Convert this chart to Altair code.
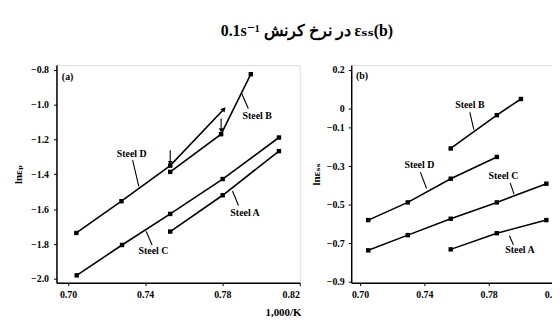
import altair as alt
import pandas as pd

SERIF = "'Liberation Serif', 'DejaVu Serif', serif"

# ---------------- panel (a): ln(eps_p) vs 1000/T ----------------
a_A_x = [0.753, 0.7802, 0.8094]
a_A_y = [-1.728, -1.520, -1.267]
a_B_x = [0.753, 0.7794, 0.7948]
a_B_y = [-1.386, -1.170, -0.826]
a_C_x = [0.7045, 0.728, 0.753, 0.7802, 0.8094]
a_C_y = [-1.979, -1.805, -1.627, -1.427, -1.189]
a_D_x = [0.7043, 0.7277, 0.753]
a_D_y = [-1.736, -1.554, -1.35]
a_D_tip_x = [0.7809]
a_D_tip_y = [-1.026]

a_lab_text = ["Steel A", "Steel B", "Steel C", "Steel D"]
a_lab_x = [0.7918, 0.7981, 0.7443, 0.733]
a_lab_y = [-1.620, -1.068, -1.839, -1.281]
a_lead_x = [0.7853, 0.7899, 0.7405, 0.7335]
a_lead_y = [-1.496, -0.932, -1.726, -1.318]
a_lead_x2 = [0.7884, 0.7935, 0.7436, 0.7367]
a_lead_y2 = [-1.579, -1.023, -1.805, -1.469]
# small vertical arrows
a_arr_x = [0.753, 0.7794]
a_arr_y = [-1.262, -1.08]
a_arr_y2 = [-1.335, -1.148]

a_xdom = [0.694, 0.8202]
a_ydom = [-2.021, -0.774]
a_xticks = [0.70, 0.74, 0.78, 0.82]
a_yticks = [-0.8, -1.0, -1.2, -1.4, -1.6, -1.8, -2.0]

# ---------------- panel (b): ln(eps_ss) vs 1000/T ----------------
b_A_x = [0.7564, 0.7851, 0.8159]
b_A_y = [-0.732, -0.648, -0.580]
b_B_x = [0.7564, 0.7851, 0.8001]
b_B_y = [-0.208, -0.035, 0.049]
b_C_x = [0.7051, 0.7297, 0.7564, 0.7851, 0.8159]
b_C_y = [-0.737, -0.658, -0.573, -0.488, -0.391]
b_D_x = [0.7051, 0.7297, 0.7564, 0.7851]
b_D_y = [-0.580, -0.488, -0.365, -0.252]

b_lab_text = ["Steel A", "Steel B", "Steel C", "Steel D"]
b_lab_x = [0.7995, 0.7683, 0.7892, 0.7369]
b_lab_y = [-0.737, 0.020, -0.353, -0.294]
b_lead_x = [0.7929, 0.7683, 0.7934, 0.7375]
b_lead_y = [-0.661, -0.021, -0.387, -0.331]
b_lead_x2 = [0.7954, 0.7708, 0.7958, 0.7414]
b_lead_y2 = [-0.708, -0.110, -0.445, -0.416]

b_xdom = [0.6945, 0.8225]
b_ydom = [-0.905, 0.225]
b_xticks = [0.70, 0.74, 0.78, 0.82]
b_yticks = [0.2, 0, -0.1, -0.3, -0.5, -0.7, -0.9]


def series_df(pairs):
    rows = []
    for name, xs, ys in pairs:
        for x, y in zip(xs, ys):
            rows.append({"s": name, "x": x, "y": y})
    return pd.DataFrame(rows)


def panel(lines_df, marks_df, lab, lead, xdom, ydom, xaxis, yaxis, w, h,
          corner, corner_xy, arrows=None, tips=None):
    X = alt.X("x:Q", scale=alt.Scale(domain=xdom, nice=False, zero=False), axis=xaxis)
    Y = alt.Y("y:Q", scale=alt.Scale(domain=ydom, nice=False, zero=False), axis=yaxis)
    layers = []
    layers.append(alt.Chart(lines_df).mark_line(color="black", strokeWidth=1.6)
                  .encode(x=X, y=Y, detail="s:N", order="x:Q"))
    layers.append(alt.Chart(marks_df).mark_point(shape="square", filled=True, color="black",
                                                 size=20, opacity=1)
                  .encode(x=X, y=Y))
    layers.append(alt.Chart(lead).mark_rule(color="black", strokeWidth=1.1)
                  .encode(x=X, y=Y, x2="x2:Q", y2="y2:Q"))
    layers.append(alt.Chart(lab).mark_text(font=SERIF, fontSize=10, fontWeight="bold",
                                           color="black")
                  .encode(x=X, y=Y, text="t:N"))
    layers.append(alt.Chart(pd.DataFrame({"t": [corner], "x": [corner_xy[0]], "y": [corner_xy[1]]}))
                  .mark_text(font=SERIF, fontSize=10, fontWeight="bold", align="left",
                             color="black")
                  .encode(x=X, y=Y, text="t:N"))
    if arrows is not None:
        layers.append(alt.Chart(arrows).mark_rule(color="black", strokeWidth=1.1)
                      .encode(x=X, y=Y, y2="y2:Q"))
        layers.append(alt.Chart(arrows).mark_point(shape="triangle-down", filled=True,
                                                   color="black", size=22, opacity=1)
                      .encode(x=X, y=alt.Y("y2:Q", scale=alt.Scale(domain=ydom, nice=False, zero=False), axis=yaxis)))
    if tips is not None:
        layers.append(alt.Chart(tips).mark_point(shape="triangle-up", filled=True,
                                                 color="black", size=30, opacity=1, angle=41)
                      .encode(x=X, y=Y))
    return alt.layer(*layers).properties(width=w, height=h)


axis_common = dict(labelFont=SERIF, labelFontSize=10, labelFontWeight="bold",
                   labelColor="black", titleFont=SERIF, titleFontWeight="bold",
                   titleColor="black", domainColor="black", domainWidth=1.5,
                   tickColor="black", tickSize=3, grid=False)

# panel (a)
a_lines = series_df([("A", a_A_x, a_A_y), ("B", a_B_x, a_B_y), ("C", a_C_x, a_C_y),
                     ("D", a_D_x + a_D_tip_x, a_D_y + a_D_tip_y)])
a_marks = series_df([("A", a_A_x, a_A_y), ("B", a_B_x, a_B_y), ("C", a_C_x, a_C_y),
                     ("D", a_D_x, a_D_y)])
a_lab = pd.DataFrame({"t": a_lab_text, "x": a_lab_x, "y": a_lab_y})
a_lead = pd.DataFrame({"x": a_lead_x, "y": a_lead_y, "x2": a_lead_x2, "y2": a_lead_y2})
a_arrows = pd.DataFrame({"x": a_arr_x, "y": a_arr_y, "y2": a_arr_y2})
a_tips = pd.DataFrame({"x": a_D_tip_x, "y": a_D_tip_y})

a_xaxis = alt.Axis(values=a_xticks, format=".2f", title="1,000/K", titleFontSize=11,
                   titleX=229, titleY=30, titleBaseline="middle", labelPadding=4,
                   **axis_common)
a_yaxis = alt.Axis(values=a_yticks, format=".1f", title="lnεₚ", titleFontSize=11,
                   titlePadding=7, labelPadding=5, **axis_common)

left = panel(a_lines, a_marks, a_lab, a_lead, a_xdom, a_ydom, a_xaxis, a_yaxis, 246, 220,
             "(a)", (0.6968, -0.84), arrows=a_arrows, tips=a_tips)

# panel (b)
b_lines = series_df([("A", b_A_x, b_A_y), ("B", b_B_x, b_B_y), ("C", b_C_x, b_C_y),
                     ("D", b_D_x, b_D_y)])
b_lab = pd.DataFrame({"t": b_lab_text, "x": b_lab_x, "y": b_lab_y})
b_lead = pd.DataFrame({"x": b_lead_x, "y": b_lead_y, "x2": b_lead_x2, "y2": b_lead_y2})

b_xaxis = alt.Axis(values=b_xticks, format=".2f", title="", labelPadding=4, **axis_common)
b_yaxis = alt.Axis(values=b_yticks,
                   labelExpr="datum.value == 0 ? '0' : format(datum.value, '.1f')",
                   title="lnεₛₛ", titleFontSize=11, titlePadding=5, labelPadding=4,
                   **axis_common)

right = panel(b_lines, b_lines, b_lab, b_lead, b_xdom, b_ydom, b_xaxis, b_yaxis, 208, 220,
              "(b)", (0.6975, 0.167))

chart = alt.hconcat(left, right, spacing=8).properties(
    title=alt.TitleParams(text="0.1s⁻¹ در نرخ کرنش εₛₛ(b)", font=SERIF, fontSize=16,
                          fontWeight="bold", color="black", anchor="middle", dx=20,
                          offset=25),
    padding={"left": 4, "top": 14, "right": -11, "bottom": 0},
).configure_view(stroke="black", strokeWidth=1.5).configure(background="white")

chart.save("out.html", embed_options={"renderer": "svg", "actions": False})
